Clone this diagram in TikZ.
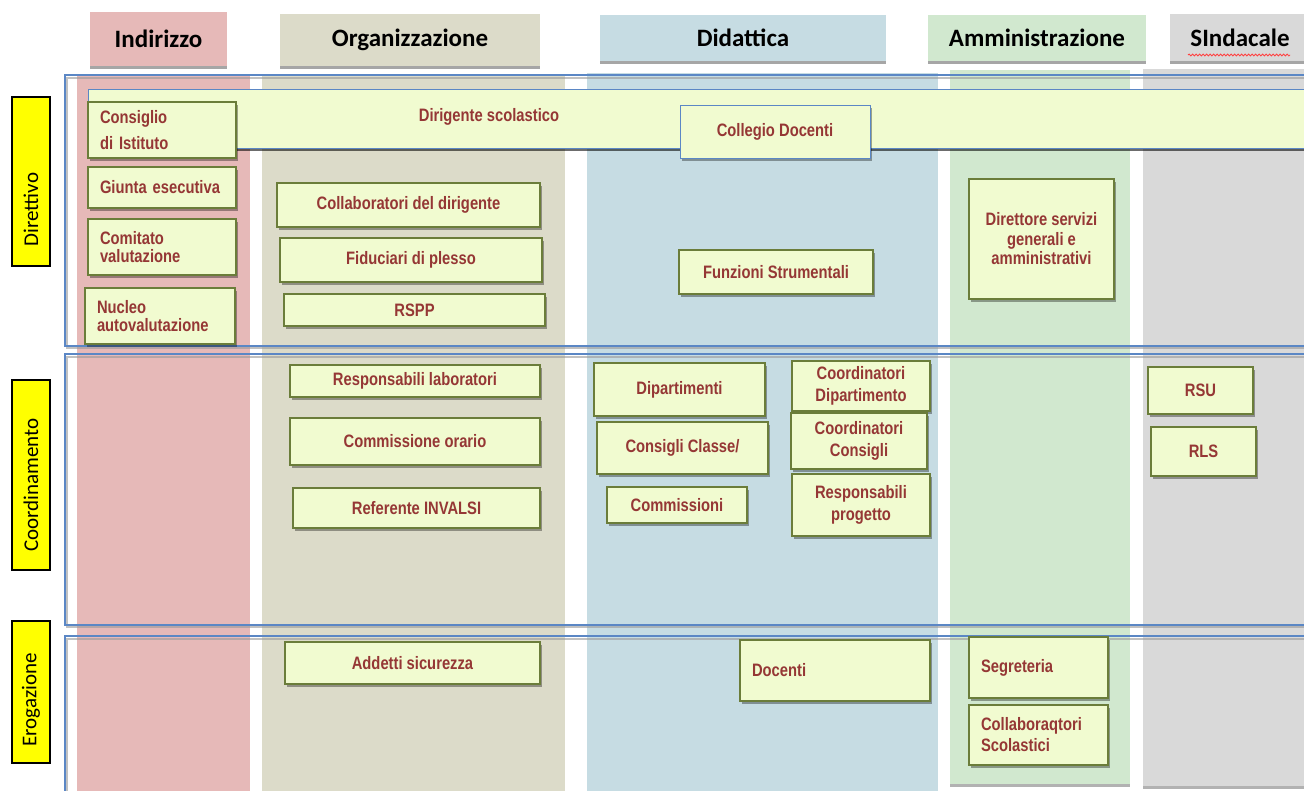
\documentclass[tikz,border=0pt]{standalone}
\usepackage{fontspec}
\setmainfont{Liberation Sans}
\newfontfamily\narb{Liberation Sans}[FakeStretch=0.82]
\newfontfamily\calib{Carlito}
\usetikzlibrary{shadows,decorations.pathmorphing}
\definecolor{cInd}{HTML}{E6B9B8}
\definecolor{cOrg}{HTML}{DCDBC9}
\definecolor{cDid}{HTML}{C6DCE3}
\definecolor{cAmm}{HTML}{D1E8CF}
\definecolor{cSin}{HTML}{D9D9D9}
\definecolor{boxfill}{HTML}{F1FBD0}
\definecolor{boxline}{HTML}{6B7D3A}
\definecolor{txtred}{HTML}{953735}
\definecolor{frameblue}{HTML}{5B87C5}
\definecolor{sideyel}{HTML}{FFFF00}
\tikzset{
  bx/.style={draw=boxline, line width=1.1pt, fill=boxfill, inner sep=0pt, align=center,
    font=\narb\bfseries\fontsize{18}{21}\selectfont, text=txtred,
    drop shadow={shadow xshift=2pt, shadow yshift=-3pt, opacity=0.35, fill=black}},
  lft/.style={text width=\otw pt, align=left},
  tight/.style={font=\narb\bfseries\fontsize{18}{18}\selectfont},
  mid/.style={font=\narb\bfseries\fontsize{18}{19.5}\selectfont},
  bluebox/.style={draw=frameblue, line width=1pt},
  band/.style={draw=none, inner sep=0pt},
  hdr/.style={draw=none, inner sep=0pt, font=\calib\bfseries\fontsize{25}{28}\selectfont, text=black,
    drop shadow={shadow xshift=0pt, shadow yshift=-3pt, opacity=1, fill=black!35}},
  side/.style={draw=black, line width=1.2pt, fill=sideyel, inner sep=0pt, rotate=90,
    font=\calib\fontsize{21}{24}\selectfont, text=black},
  rowframe/.style={draw=frameblue, line width=1.1pt},
  rowshadow/.style={draw=black!40, line width=1.5pt, opacity=0.6},
}
\newcommand\obox[7]{%
  \pgfmathsetmacro\oxc{(#3+#5)/2}%
  \pgfmathsetmacro\oyc{(#4+#6)/2}%
  \pgfmathsetmacro\ow{#5-#3}%
  \pgfmathsetmacro\oh{#6-#4}%
  \pgfmathsetmacro\otw{#5-#3-24}%
  \node[bx, minimum width=\ow pt, minimum height=\oh pt, #1] (#2) at (\oxc,\oyc) {#7};}
\newcommand\bandbox[7]{%
  \pgfmathsetmacro\oxc{(#3+#5)/2}%
  \pgfmathsetmacro\oyc{(#4+#6)/2}%
  \pgfmathsetmacro\ow{#5-#3}%
  \pgfmathsetmacro\oh{#6-#4}%
  \node[#1, minimum width=\ow pt, minimum height=\oh pt] (#2) at (\oxc,\oyc) {#7};}
\begin{document}
\begin{tikzpicture}[x=1pt,y=-1pt]
\clip (0,0) rectangle (1304,790);
\fill[white] (0,0) rectangle (1304,790);
% column bands
\bandbox{band, fill=cInd}{bInd}{77}{74}{250}{795}{}
\bandbox{band, fill=cOrg}{bOrg}{262}{74}{565}{795}{}
\bandbox{band, fill=cDid}{bDid}{587}{73}{938}{795}{}
\bandbox{band, fill=cAmm, drop shadow={shadow xshift=0pt, shadow yshift=-3pt, opacity=1, fill=black!30}}{bAmm}{950}{70}{1130}{784}{}
\bandbox{band, fill=cSin, drop shadow={shadow xshift=0pt, shadow yshift=-3pt, opacity=1, fill=black!30}}{bSin}{1143}{69}{1320}{786}{}
% headers
\bandbox{hdr, fill=cInd}{hInd}{90}{12}{227}{66}{Indirizzo}
\bandbox{hdr, fill=cOrg}{hOrg}{280}{14}{540}{66}{Organizzazione}
\bandbox{hdr, fill=cDid}{hDid}{600}{15}{886}{61}{Didattica}
\bandbox{hdr, fill=cAmm}{hAmm}{928}{15}{1146}{61}{Amministrazione}
\bandbox{hdr, fill=cSin}{hSin}{1170}{14}{1310}{61}{SIndacale}
\coordinate (wv1) at (1188,55);
\coordinate (wv2) at (1290,55);
\draw[red!75, line width=0.8pt, decorate, decoration={snake, amplitude=1pt, segment length=3.5pt}] (wv1) -- (wv2);
% side labels
\node[side, minimum width=169pt, minimum height=38pt] (sDir) at (31,181.5) {Direttivo\rule{56pt}{0pt}};
\node[side, minimum width=190pt, minimum height=38pt] (sCoo) at (31,475) {Coordinamento\rule{20pt}{0pt}};
\node[side, minimum width=142pt, minimum height=38pt] (sEro) at (31,692) {Erogazione\rule{16pt}{0pt}};
% row frames
\draw[rowshadow] (67,78) rectangle (1322,348);
\draw[rowframe] (65,75) rectangle (1320,346);
\draw[rowshadow] (67,357) rectangle (1322,627);
\draw[rowframe] (65,354) rectangle (1320,625);
\draw[rowshadow] (67,639) rectangle (1322,810);
\draw[rowframe] (65,636) rectangle (1320,808);
% dirigente bar
\obox{bluebox, drop shadow={shadow xshift=0pt, shadow yshift=-3pt, opacity=0.35, fill=black}}{dir}{88}{89}{1320}{148}{}
\node[font=\narb\bfseries\fontsize{18}{21}\selectfont, text=txtred, inner sep=0pt] (dirlab) at (489,117) {Dirigente scolastico};
% Indirizzo
\obox{lft, font=\narb\bfseries\fontsize{18}{20}\selectfont}{cons}{88}{102}{236}{158}{Consiglio\\[6pt]di Istituto}
\obox{lft}{giunta}{88}{167}{236}{208}{Giunta esecutiva}
\obox{lft, tight}{comit}{88}{219}{236}{275}{Comitato\\valutazione}
\obox{lft, tight}{nucleo}{85}{288}{235}{344}{Nucleo\\autovalutazione}
% Organizzazione
\obox{}{collab}{277}{183}{540}{227}{Collaboratori del dirigente}
\obox{}{fid}{280}{238}{542}{282}{Fiduciari di plesso}
\obox{}{rspp}{284}{294}{545}{326}{RSPP}
\obox{}{resplab}{290}{365}{540}{397}{Responsabili laboratori}
\obox{}{commor}{290}{418}{540}{465}{Commissione orario}
\obox{}{invalsi}{293}{488}{540}{528}{Referente INVALSI}
\obox{}{addetti}{285}{642}{540}{684}{Addetti sicurezza}
% Didattica
\obox{bluebox}{collegio}{680}{105}{870}{158}{Collegio Docenti}
\obox{}{funz}{679}{250}{873}{294}{Funzioni Strumentali}
\obox{}{dip}{594}{363}{765}{416}{Dipartimenti}
\obox{font=\narb\bfseries\fontsize{18}{22}\selectfont}{coorddip}{792}{361}{930}{411}{Coordinatori\\Dipartimento}
\obox{}{cclasse}{597}{422}{768}{474}{Consigli Classe/}
\obox{font=\narb\bfseries\fontsize{18}{22}\selectfont}{coordcons}{791}{413}{927}{469}{Coordinatori\\Consigli}
\obox{}{commiss}{607}{487}{747}{523}{Commissioni}
\obox{font=\narb\bfseries\fontsize{18}{22}\selectfont}{respprog}{792}{474}{930}{536}{Responsabili\\progetto}
\obox{lft}{docenti}{740}{640}{930}{701}{Docenti}
% Amministrazione
\obox{mid}{dsga}{969}{179}{1114}{299}{Direttore servizi\\generali e\\amministrativi}
\obox{lft}{segr}{969}{637}{1108}{698}{Segreteria}
\obox{lft}{collsc}{969}{705}{1108}{765}{Collaboraqtori\\Scolastici}
% Sindacale
\obox{}{rsu}{1148}{367}{1253}{414}{RSU}
\obox{}{rls}{1151}{427}{1256}{476}{RLS}
\end{tikzpicture}
\end{document}
